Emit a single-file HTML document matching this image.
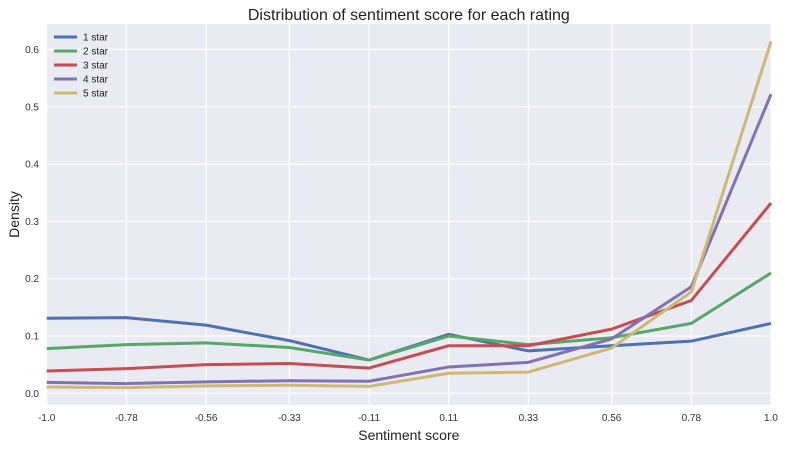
<!DOCTYPE html>
<html><head><meta charset="utf-8"><style>
body{margin:0;background:#fff;font-family:"Liberation Sans",Arial,sans-serif}
svg text{font-family:"Liberation Sans",Arial,sans-serif}
</style></head><body>
<svg id="c" width="785" height="446"></svg>
<script>
const xVals=[-1.0,-0.78,-0.56,-0.33,-0.11,0.11,0.33,0.56,0.78,1.0];
const xTickLabels=["-1.0","-0.78","-0.56","-0.33","-0.11","0.11","0.33","0.56","0.78","1.0"];
const yTicks=[0.0,0.1,0.2,0.3,0.4,0.5,0.6];
const seriesNames=["1 star","2 star","3 star","4 star","5 star"];
const s1=[0.131,0.132,0.119,0.092,0.058,0.103,0.074,0.083,0.091,0.122];
const s2=[0.078,0.085,0.088,0.080,0.058,0.100,0.085,0.097,0.122,0.210];
const s3=[0.039,0.043,0.050,0.052,0.044,0.083,0.083,0.112,0.162,0.332];
const s4=[0.019,0.017,0.020,0.022,0.021,0.046,0.054,0.095,0.186,0.522];
const s5=[0.011,0.010,0.013,0.014,0.012,0.035,0.037,0.079,0.177,0.614];
const series=[s1,s2,s3,s4,s5];
const colors=["#4C72B0","#55A868","#C44E52","#8172B2","#CCB974"];
const L=46.7,R=771,T=24,B=405;
const xMin=-1,xMax=1,yMin=-0.0204,yMax=0.6445;
const X=v=>L+(v-xMin)/(xMax-xMin)*(R-L);
const Y=v=>B-(v-yMin)/(yMax-yMin)*(B-T);
const svg=document.getElementById('c');
const NS="http://www.w3.org/2000/svg";
function mk(t,a,p){const e=document.createElementNS(NS,t);for(const k in a)e.setAttribute(k,a[k]);(p||svg).appendChild(e);return e;}
const bg=mk('rect',{x:L,y:T,width:R-L,height:B-T,fill:'#EAEAF2'});


xVals.forEach((v,i)=>{
 const g=mk('line',{x1:X(v),x2:X(v),y1:T,y2:B,stroke:'#fff','stroke-width':1.2});
 
 
 const t=mk('text',{x:X(v),y:421,'text-anchor':'middle','font-size':10,fill:'#333'});
 t.textContent=xTickLabels[i];
 
 
});
yTicks.forEach(v=>{
 const g=mk('line',{x1:L,x2:R,y1:Y(v),y2:Y(v),stroke:'#fff','stroke-width':1.2});
 
 
 const t=mk('text',{x:39,y:Y(v)+3.5,'text-anchor':'end','font-size':10,fill:'#333'});
 t.textContent=v.toFixed(1);
 
 
});
series.forEach((s,i)=>{
 const p=mk('polyline',{points:s.map((v,j)=>X(xVals[j])+','+Y(v)).join(' '),fill:'none',stroke:colors[i],'stroke-width':3,'stroke-linejoin':'round'});
 
 
});
seriesNames.forEach((n,i)=>{
 const y=37+i*14;
 const l=mk('line',{x1:54,x2:77,y1:y,y2:y,stroke:colors[i],'stroke-width':3});
 
 
 const t=mk('text',{x:83,y:y+3.5,'font-size':10,fill:'#222'});
 t.textContent=n;
 
 
});
const title=mk('text',{x:(L+R)/2,y:20,'text-anchor':'middle','font-size':16,fill:'#222'});
title.textContent="Distribution of sentiment score for each rating";


const xt=mk('text',{x:(L+R)/2,y:440,'text-anchor':'middle','font-size':14,fill:'#222'});
xt.textContent="Sentiment score";


const yt=mk('text',{x:19,y:(T+B)/2,'text-anchor':'middle','font-size':14,fill:'#222',transform:'rotate(-90 19 '+((T+B)/2)+')'});
yt.textContent="Density";


</script>
</body></html>
